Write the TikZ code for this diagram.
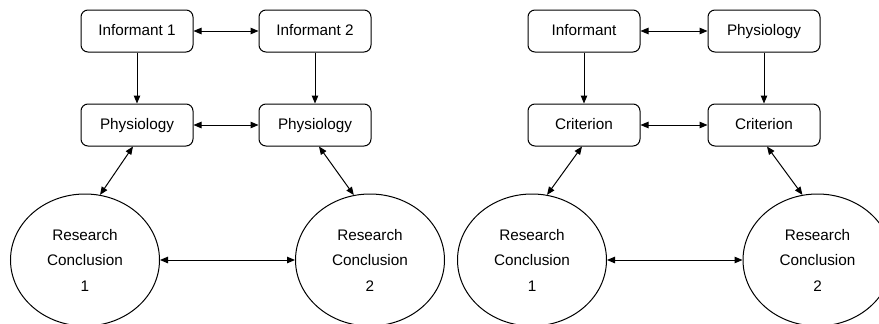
\documentclass[tikz,border=0pt]{standalone}
\usepackage{fontspec}
\setmainfont{Liberation Sans}
\usetikzlibrary{arrows.meta, positioning, shapes.geometric}

\begin{document}
\begin{tikzpicture}[x=1pt, y=-1pt,
        font=\fontsize{15.3}{25.5}\selectfont,
        box/.style={rectangle, draw, line width=1pt, rounded corners=7pt,
                    minimum width=112pt, minimum height=42pt, inner sep=0pt,
                    text height=11pt, text depth=3pt},
        concl/.style={ellipse, draw, line width=1pt, minimum width=149pt,
                      minimum height=132pt, inner sep=0pt, align=center},
        arr/.style={-{Triangle[length=8pt,width=6.5pt]}, line width=1pt},
        darr/.style={{Triangle[length=8pt,width=6.5pt]}-{Triangle[length=8pt,width=6.5pt]}, line width=1pt},
        node distance=51pt and 65pt]
      \clip (0,0) rectangle (879,324);
      % left panel
      \node[box] (inf1) at (137,31) {Informant 1};
      \node[box, right=of inf1] (inf2) {Informant 2};
      \node[box, below=of inf1] (phy1) {Physiology};
      \node[box, below=of inf2] (phy2) {Physiology};
      \node[concl] (rc1) at (85,260) {Research\\Conclusion\\1};
      \node[concl] (rc2) at (370,260) {Research\\Conclusion\\2};
      \draw[darr] (inf1) -- (inf2);
      \draw[darr] (phy1) -- (phy2);
      \draw[arr] (inf1) -- (phy1);
      \draw[arr] (inf2) -- (phy2);
      \draw[darr] ([xshift=-4pt]phy1.south) -- (rc1.77);
      \draw[darr] ([xshift=4pt]phy2.south) -- (rc2.104);
      \draw[darr] (rc1) -- (rc2);
      % right panel
      \node[box] (inf) at (584,31) {Informant};
      \node[box, right=67pt of inf] (phy) {Physiology};
      \node[box, below=of inf] (crit1) {Criterion};
      \node[box, below=of phy] (crit2) {Criterion};
      \node[concl] (rc3) at (532,260) {Research\\Conclusion\\1};
      \node[concl] (rc4) at (817.5,260) {Research\\Conclusion\\2};
      \draw[darr] (inf) -- (phy);
      \draw[darr] (crit1) -- (crit2);
      \draw[arr] (inf) -- (crit1);
      \draw[arr] (phy) -- (crit2);
      \draw[darr] ([xshift=-2pt]crit1.south) -- (rc3.77);
      \draw[darr] ([xshift=3pt]crit2.south) -- (rc4.103);
      \draw[darr] (rc3) -- (rc4);
\end{tikzpicture}
\end{document}
